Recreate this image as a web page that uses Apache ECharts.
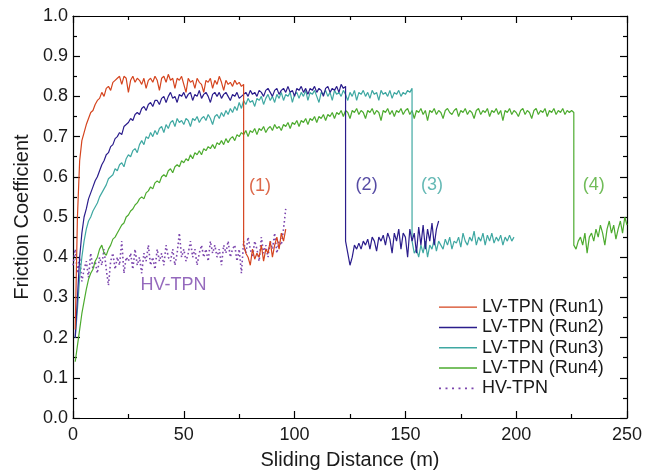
<!DOCTYPE html>
<html>
<head>
<meta charset="utf-8">
<script src="https://cdn.jsdelivr.net/npm/echarts@6/dist/echarts.min.js"></script>
<style>html,body{margin:0;padding:0;background:#fff;}#c{width:648px;height:475px;}</style>
</head>
<body>
<div id="c"></div>
<script>
// ---- data (x in m, start x given per segment, 1 m steps) ----
var seriesNames = ['LV-TPN (Run1)', 'LV-TPN (Run2)', 'LV-TPN (Run3)', 'LV-TPN (Run4)', 'HV-TPN'];
var xTicks = [0, 50, 100, 150, 200, 250];
var yTicks = [0.0, 0.1, 0.2, 0.3, 0.4, 0.5, 0.6, 0.7, 0.8, 0.9, 1.0];

var run1PreStart = 1;
var run1Pre = [0.22,0.50,0.64,0.69,0.71,0.73,0.745,0.76,0.765,0.78,0.79,0.795,0.81,0.80,0.82,0.825,0.815,0.835,0.84,0.845,
  0.85,0.83,0.85,0.845,0.81,0.84,0.85,0.835,0.845,0.84,0.83,0.845,0.82,0.84,0.845,0.835,0.85,0.84,0.815,0.845,
  0.85,0.835,0.855,0.84,0.845,0.82,0.845,0.84,0.85,0.83,0.81,0.845,0.835,0.84,0.82,0.845,0.835,0.83,0.81,0.84,
  0.835,0.845,0.82,0.84,0.83,0.85,0.835,0.815,0.84,0.83,0.835,0.825,0.84,0.83,0.835,0.825,0.83];
var run1PostStart = 77;
var run1Post = [0.43,0.41,0.40,0.38,0.42,0.395,0.41,0.40,0.43,0.39,0.42,0.41,0.44,0.40,0.43,0.45,0.42,0.46,0.44,0.47];

var run2PreStart = 1;
var run2Pre = [0.20,0.30,0.40,0.46,0.50,0.52,0.545,0.56,0.575,0.59,0.60,0.615,0.63,0.64,0.655,0.66,0.675,0.68,0.695,0.70,
  0.71,0.705,0.725,0.73,0.735,0.745,0.74,0.755,0.76,0.755,0.77,0.775,0.765,0.78,0.785,0.775,0.79,0.79,0.78,0.795,
  0.80,0.785,0.80,0.81,0.795,0.80,0.785,0.805,0.80,0.81,0.795,0.805,0.81,0.79,0.805,0.80,0.815,0.795,0.805,0.81,
  0.80,0.785,0.805,0.81,0.80,0.81,0.795,0.805,0.81,0.80,0.79,0.805,0.80,0.81,0.795,0.80,0.805,0.81,0.80,0.815,
  0.805,0.81,0.80,0.815,0.81,0.80,0.815,0.82,0.81,0.80,0.815,0.82,0.805,0.815,0.82,0.81,0.825,0.81,0.815,0.80,
  0.82,0.815,0.825,0.81,0.82,0.805,0.82,0.815,0.825,0.81,0.82,0.815,0.80,0.82,0.825,0.81,0.82,0.815,0.825,0.81,
  0.83,0.82,0.825];
var run2PostStart = 123;
var run2Post = [0.44,0.41,0.38,0.40,0.43,0.42,0.435,0.42,0.44,0.43,0.445,0.42,0.45,0.44,0.415,0.45,0.44,0.455,0.43,0.46,
  0.445,0.41,0.46,0.44,0.47,0.42,0.46,0.45,0.40,0.47,0.44,0.46,0.41,0.475,0.43,0.48,0.42,0.47,0.44,0.485,
  0.43,0.47,0.49];

var run3PreStart = 1;
var run3Pre = [0.20,0.27,0.35,0.40,0.44,0.47,0.49,0.50,0.515,0.525,0.535,0.55,0.56,0.57,0.58,0.595,0.60,0.605,0.62,0.615,
  0.63,0.635,0.625,0.645,0.655,0.65,0.665,0.67,0.66,0.68,0.69,0.68,0.70,0.695,0.71,0.70,0.715,0.705,0.72,0.725,
  0.71,0.73,0.72,0.735,0.74,0.725,0.745,0.735,0.74,0.73,0.745,0.74,0.725,0.745,0.74,0.75,0.735,0.745,0.75,0.74,
  0.755,0.745,0.73,0.75,0.755,0.745,0.76,0.75,0.765,0.755,0.77,0.76,0.775,0.765,0.785,0.77,0.79,0.78,0.795,0.785,
  0.79,0.775,0.795,0.79,0.80,0.78,0.795,0.805,0.79,0.80,0.785,0.805,0.795,0.81,0.79,0.805,0.80,0.81,0.785,0.805,
  0.81,0.795,0.81,0.80,0.815,0.79,0.81,0.805,0.815,0.80,0.785,0.81,0.805,0.815,0.80,0.81,0.79,0.815,0.805,0.81,
  0.80,0.815,0.805,0.79,0.81,0.80,0.815,0.79,0.81,0.805,0.815,0.80,0.81,0.795,0.815,0.805,0.81,0.79,0.815,0.805,
  0.81,0.80,0.815,0.795,0.81,0.805,0.815,0.80,0.81,0.805,0.815,0.81,0.82];
var run3PostStart = 153;
var run3Post = [0.44,0.41,0.42,0.40,0.43,0.41,0.44,0.40,0.43,0.42,0.445,0.415,0.44,0.43,0.42,0.445,0.43,0.45,0.42,0.44,
  0.435,0.45,0.425,0.46,0.44,0.43,0.45,0.44,0.465,0.43,0.45,0.44,0.46,0.43,0.455,0.44,0.46,0.435,0.45,0.44,
  0.455,0.43,0.45,0.44,0.455,0.44,0.45];

var run4PreStart = 1;
var run4Pre = [0.14,0.18,0.22,0.26,0.29,0.32,0.345,0.36,0.37,0.39,0.40,0.42,0.43,0.41,0.405,0.42,0.43,0.445,0.45,0.46,
  0.47,0.48,0.485,0.50,0.505,0.515,0.52,0.53,0.535,0.545,0.55,0.545,0.56,0.565,0.575,0.57,0.585,0.59,0.585,0.60,
  0.605,0.60,0.615,0.62,0.61,0.625,0.63,0.625,0.64,0.635,0.645,0.64,0.655,0.645,0.66,0.655,0.665,0.655,0.67,0.665,
  0.675,0.67,0.68,0.67,0.685,0.68,0.69,0.68,0.695,0.685,0.695,0.70,0.69,0.705,0.70,0.71,0.705,0.715,0.70,0.715,
  0.71,0.72,0.705,0.72,0.715,0.725,0.71,0.72,0.725,0.715,0.73,0.72,0.725,0.715,0.73,0.725,0.735,0.72,0.735,0.73,
  0.74,0.725,0.74,0.735,0.745,0.73,0.745,0.74,0.75,0.735,0.75,0.745,0.755,0.74,0.755,0.75,0.76,0.745,0.76,0.755,
  0.765,0.75,0.765,0.76,0.745,0.765,0.76,0.77,0.755,0.765,0.76,0.745,0.765,0.76,0.77,0.755,0.765,0.76,0.74,0.765,
  0.76,0.77,0.755,0.765,0.75,0.765,0.76,0.77,0.755,0.765,0.77,0.755,0.765,0.745,0.765,0.76,0.77,0.755,0.765,0.74,
  0.765,0.76,0.77,0.755,0.765,0.76,0.745,0.765,0.77,0.76,0.755,0.765,0.77,0.75,0.765,0.76,0.77,0.755,0.765,0.76,
  0.745,0.765,0.77,0.755,0.765,0.76,0.77,0.75,0.765,0.76,0.77,0.755,0.765,0.74,0.765,0.76,0.77,0.755,0.765,0.76,
  0.75,0.765,0.77,0.755,0.765,0.76,0.745,0.765,0.77,0.755,0.765,0.76,0.77,0.75,0.765,0.76,0.77,0.755,0.765,0.76,
  0.77,0.755,0.765,0.76,0.765,0.76];
var run4PostStart = 226;
var run4Post = [0.43,0.42,0.44,0.45,0.43,0.46,0.41,0.45,0.46,0.44,0.47,0.45,0.48,0.46,0.43,0.47,0.49,0.46,0.48,0.445,
  0.47,0.49,0.46,0.50,0.48];

var hvStart = 0;
var hv = [0.38,0.42,0.36,0.40,0.34,0.37,0.39,0.35,0.41,0.37,0.39,0.36,0.40,0.38,0.42,0.37,0.33,0.39,0.41,0.37,
  0.40,0.38,0.44,0.36,0.40,0.39,0.41,0.37,0.42,0.38,0.40,0.36,0.41,0.39,0.43,0.38,0.40,0.37,0.42,0.39,
  0.41,0.38,0.43,0.40,0.39,0.42,0.38,0.41,0.46,0.40,0.42,0.39,0.41,0.44,0.40,0.42,0.38,0.41,0.43,0.40,
  0.42,0.39,0.44,0.41,0.43,0.40,0.42,0.38,0.43,0.41,0.44,0.40,0.42,0.43,0.39,0.42,0.36,0.44,0.41,0.45,
  0.42,0.40,0.44,0.42,0.39,0.45,0.41,0.43,0.40,0.44,0.42,0.46,0.41,0.44,0.43,0.47,0.52];

var annoTexts = ['(1)', '(2)', '(3)', '(4)', 'HV-TPN'];
var annoX = [84.4, 132.5, 162, 235, 45.3];
var annoY = [0.577, 0.579, 0.58, 0.58, 0.332];

// ---- styling ----
var colors = ['#d5441e', '#2b1d8c', '#3fa8a2', '#4dab2f', '#7b45ad'];
var FONT = 'Liberation Sans, Arial, sans-serif';
var solidIcon = 'path://M0,0h38v1.4h-38z';
var dottedIcon = 'path://M0,0h2v1.6h-2z M6.5,0h2v1.6h-2z M13,0h2v1.6h-2z M19.5,0h2v1.6h-2z M26,0h2v1.6h-2z M32.5,0h2v1.6h-2z M38,0h0v1.6h0z';

function pairs(start, ys) { return ys.map(function (y, i) { return [start + i, y]; }); }

var seriesData = [
  pairs(run1PreStart, run1Pre).concat(pairs(run1PostStart, run1Post)),
  pairs(run2PreStart, run2Pre).concat(pairs(run2PostStart, run2Post)),
  pairs(run3PreStart, run3Pre).concat(pairs(run3PostStart, run3Post)),
  pairs(run4PreStart, run4Pre).concat(pairs(run4PostStart, run4Post)),
  pairs(hvStart, hv)
];

var series = seriesData.map(function (d, i) {
  return {
    name: seriesNames[i], type: 'line', data: d, showSymbol: false, symbol: 'none',
    color: colors[i],
    lineStyle: i === 4 ? { width: 1.6, type: [1.6, 2.6], color: colors[i] } : { width: 1.2, color: colors[i] },
    z: i === 4 ? 1 : 2 + (3 - i),
    animation: false
  };
});

series.push({
  type: 'scatter', symbolSize: 0, silent: true, animation: false,
  data: annoTexts.map(function (t, i) {
    return { value: [annoX[i], annoY[i]], label: { show: true, formatter: t, position: 'inside', color: colors[i], fontSize: 18, fontFamily: FONT } };
  })
});

var axisCommon = {
  type: 'value', splitLine: { show: false },
  axisLine: { show: true, onZero: false, lineStyle: { color: '#000', width: 1.2 } },
  axisTick: { show: true, inside: true, length: 7, lineStyle: { color: '#000', width: 1.2 } },
  minorTick: { show: true, splitNumber: 2, length: 4, lineStyle: { color: '#000', width: 1.2 } }
};

function ext(base, more) { return Object.assign({}, base, more); }

var option = {
  backgroundColor: '#fff',
  animation: false,
  grid: { left: 73, right: 21, top: 16, bottom: 55, containLabel: false },
  legend: {
    orient: 'vertical', left: 434, top: 292,
    itemWidth: 38, itemHeight: 2, itemGap: 0,
    textStyle: { fontSize: 18, fontFamily: FONT, color: '#1a1a1a', lineHeight: 20.3 },
    data: seriesNames.map(function (n, i) { return { name: n, icon: i === 4 ? dottedIcon : solidIcon }; })
  },
  xAxis: [
    ext(axisCommon, {
      min: xTicks[0], max: xTicks[xTicks.length - 1], interval: xTicks[1] - xTicks[0], position: 'bottom',
      axisLabel: { fontSize: 18, fontFamily: FONT, color: '#1a1a1a', margin: 8 },
      name: 'Sliding Distance (m)', nameLocation: 'middle', nameGap: 32,
      nameTextStyle: { fontSize: 20, fontFamily: FONT, color: '#1a1a1a' }
    }),
    ext(axisCommon, {
      min: xTicks[0], max: xTicks[xTicks.length - 1], interval: xTicks[1] - xTicks[0], position: 'top',
      axisLabel: { show: false }
    })
  ],
  yAxis: [
    ext(axisCommon, {
      min: yTicks[0], max: yTicks[yTicks.length - 1], interval: 0.1, position: 'left',
      axisLabel: { fontSize: 18, fontFamily: FONT, color: '#1a1a1a', margin: 5, formatter: function (v) { return v.toFixed(1); } },
      name: 'Friction Coefficient', nameLocation: 'middle', nameGap: 41,
      nameTextStyle: { fontSize: 20, fontFamily: FONT, color: '#1a1a1a' }
    }),
    ext(axisCommon, {
      min: yTicks[0], max: yTicks[yTicks.length - 1], interval: 0.1, position: 'right',
      axisLabel: { show: false }
    })
  ],
  series: series
};

var chart = echarts.init(document.getElementById('c'), null, { renderer: 'canvas' });
chart.setOption(option);
</script>
</body>
</html>
